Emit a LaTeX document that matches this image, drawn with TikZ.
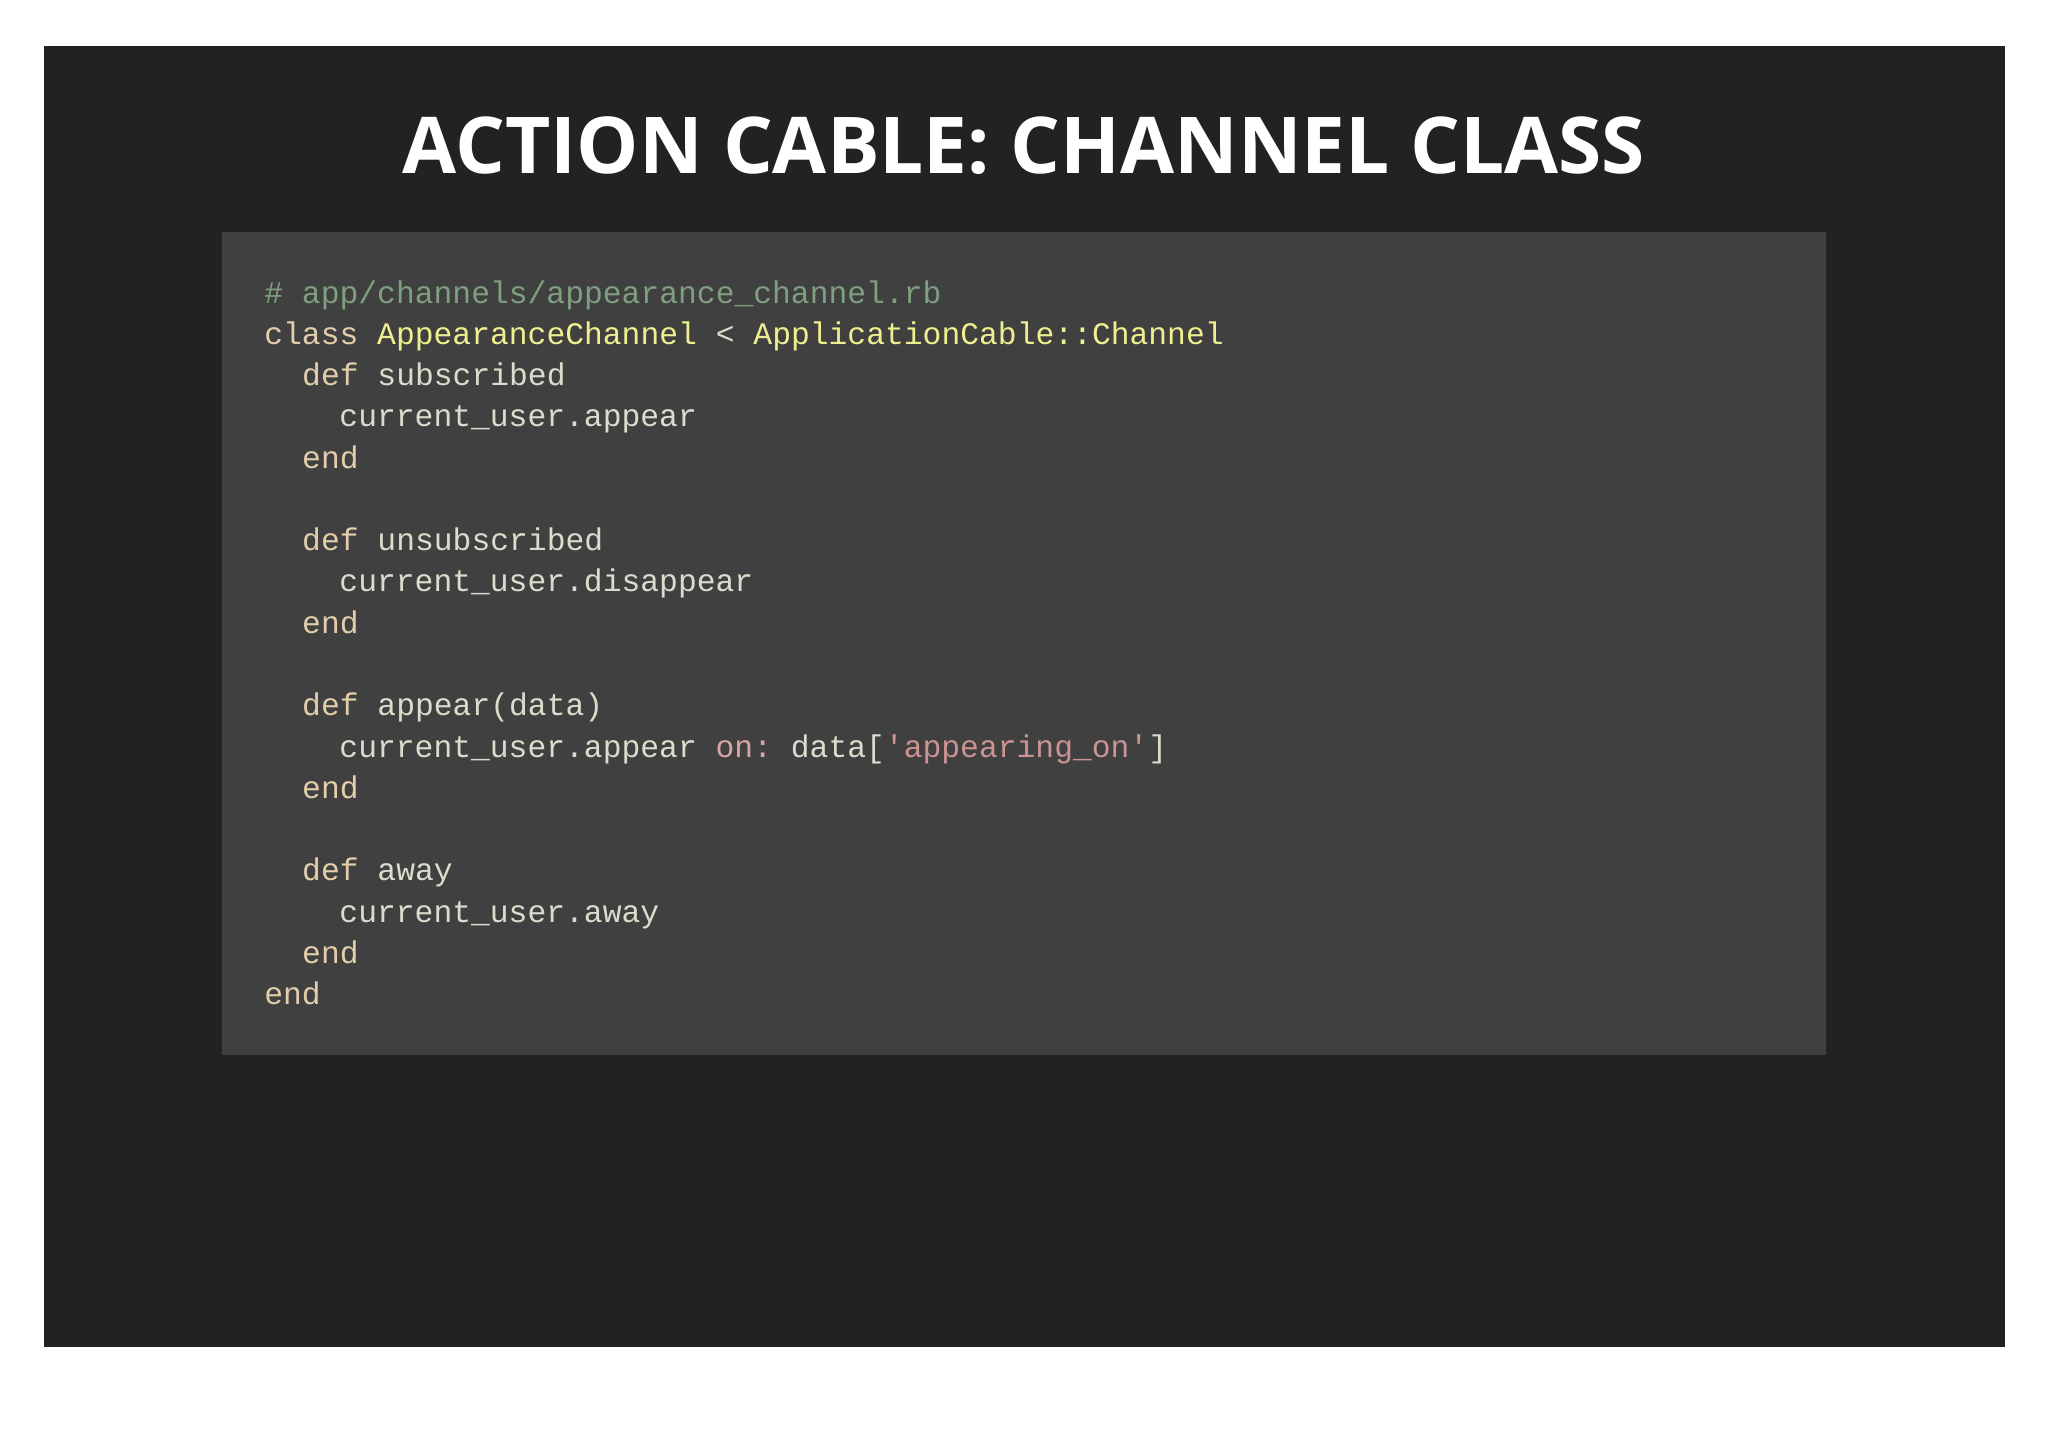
\documentclass[tikz,border=0pt]{standalone}
\usepackage{fontspec}
\setmainfont{Open Sans}
\setmonofont{Liberation Mono}
\definecolor{bg}{HTML}{222224}
\definecolor{box}{HTML}{404041}
\definecolor{txt}{HTML}{DCDCCC}
\definecolor{cmt}{HTML}{7F9F7F}
\definecolor{kw}{HTML}{E3CEAB}
\definecolor{cls}{HTML}{EFEF8F}
\definecolor{sym}{HTML}{DCA3A3}
\definecolor{str}{HTML}{CC9393}
\tikzset{code/.style={anchor=base west,inner sep=0pt,font=\ttfamily\fontsize{12}{14}\selectfont,text=txt}}
\begin{document}
\begin{tikzpicture}[x=0.5pt,y=-0.5pt]
\useasboundingbox (0,0) rectangle (1568,1108);
\fill[white] (0,0) rectangle (1568,1108);
\fill[bg] (34,35) rectangle (1535,1031);
\fill[box] (170,178) rectangle (1398,808);
\node[anchor=base,text=white,font=\fontsize{30}{34}\selectfont\bfseries] (title) at (784,133) {ACTION CABLE: CHANNEL CLASS};
\node[code,text=cmt] (l1) at (202,232) {\# app/channels/appearance\_channel.rb};
\node[code] (l2) at (202,263.6) {\textcolor{kw}{class} \textcolor{cls}{AppearanceChannel} < \textcolor{cls}{ApplicationCable::Channel}};
\node[code] (l3) at (231,295.2) {\textcolor{kw}{def} subscribed};
\node[code] (l4) at (259.5,326.8) {current\_user.appear};
\node[code,text=kw] (l5) at (231,358.4) {end};
\node[code] (l7) at (231,421.6) {\textcolor{kw}{def} unsubscribed};
\node[code] (l8) at (259.5,453.2) {current\_user.disappear};
\node[code,text=kw] (l9) at (231,484.8) {end};
\node[code] (l11) at (231,548) {\textcolor{kw}{def} appear(data)};
\node[code] (l12) at (259.5,579.6) {current\_user.appear \textcolor{sym}{on:} data[\textcolor{str}{'appearing\_on'}]};
\node[code,text=kw] (l13) at (231,611.2) {end};
\node[code] (l15) at (231,674.4) {\textcolor{kw}{def} away};
\node[code] (l16) at (259.5,706) {current\_user.away};
\node[code,text=kw] (l17) at (231,737.6) {end};
\node[code,text=kw] (l18) at (202,769.2) {end};
\end{tikzpicture}
\end{document}
